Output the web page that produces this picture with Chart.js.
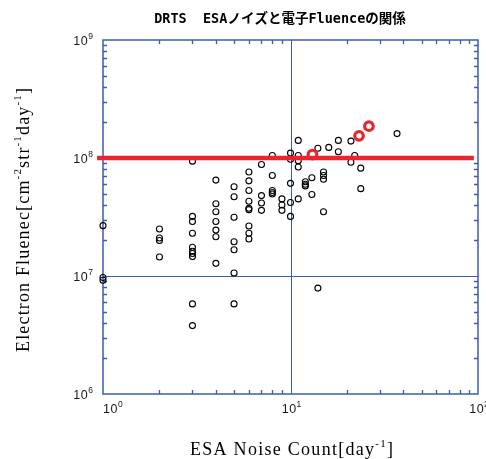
<!DOCTYPE html>
<html>
<head>
<meta charset="utf-8">
<script src="https://cdn.jsdelivr.net/npm/chart.js@4/dist/chart.umd.min.js"></script>
<style>
  html, body { margin: 0; padding: 0; background: #fff; }
</style>
</head>
<body>
<canvas id="chart" width="486" height="459"></canvas>
<script>
const chartTitle = 'DRTS  ESAノイズと電子Fluenceの関係';

// ESA noise count [day^-1] vs electron fluence, one entry per day
const noiseCounts = [
  1, 1, 1,
  2, 2, 2, 2,
  3, 3, 3, 3, 3, 3, 3, 3, 3, 3,
  4, 4, 4, 4, 4, 4, 4,
  5, 5, 5, 5, 5, 5, 5,
  6, 6, 6, 6, 6, 6, 6, 6, 6,
  7, 7, 7, 7,
  8, 8, 8, 8, 8,
  9, 9, 9,
  10, 10, 10, 10, 10,
  11, 11, 11, 11, 11,
  12, 12, 12,
  13, 13,
  14, 14,
  15, 15, 15, 15,
  16,
  18, 18,
  21, 21,
  22,
  23.7, 23.7,
  37
];
const fluences = [
  2.67e7, 9.7e6, 9.2e6,
  2.5e7, 2.1e7, 2.0e7, 1.45e7,
  9.4e7, 3.2e7, 2.9e7, 2.3e7, 1.75e7, 1.62e7, 1.55e7, 1.46e7, 5.8e6, 3.8e6,
  6.5e7, 4.1e7, 3.5e7, 2.9e7, 2.45e7, 2.15e7, 1.28e7,
  5.7e7, 4.7e7, 3.15e7, 1.95e7, 1.67e7, 1.06e7, 5.8e6,
  7.6e7, 6.4e7, 5.3e7, 4.3e7, 3.75e7, 3.65e7, 2.65e7, 2.3e7, 2.06e7,
  8.8e7, 4.8e7, 4.15e7, 3.6e7,
  1.05e8, 7.1e7, 5.3e7, 5.1e7, 4.95e7,
  4.5e7, 4.0e7, 3.6e7,
  1.1e8, 9.75e7, 6.1e7, 4.2e7, 3.2e7,
  1.41e8, 1.05e8, 9.5e7, 8.4e7, 4.5e7,
  6.3e7, 6.0e7, 5.8e7,
  6.8e7, 4.9e7,
  1.21e8, 7.9e6,
  7.6e7, 7.1e7, 6.6e7, 3.5e7,
  1.23e8,
  1.41e8, 1.13e8,
  1.39e8, 9.2e7,
  1.05e8,
  8.2e7, 5.5e7,
  1.61e8
];

// highlighted days (red rings)
const markedCounts = [13.1, 23.2, 26.2];
const markedFluences = [1.07e8, 1.54e8, 1.86e8];

// 1e8 threshold line
const thresholdCounts = [0.93, 95];
const thresholdFluences = [1e8, 1e8];

const xTickValues = [1, 10, 100];
const xTickExponents = ['0', '1', '2'];
const yTickValues = [1e6, 1e7, 1e8, 1e9];
const yTickExponents = ['6', '7', '8', '9'];
const gridValuesX = [10];
const gridValuesY = [1e7];

const BLUE = '#3d5cab';
const RED = '#e8262c';

const toPoints = (xs, ys) => xs.map((x, i) => ({ x, y: ys[i] }));

// draw a run of text pieces, some raised as superscripts, with extra letter spacing
function drawPieces(ctx, pieces, x, y, spacing) {
  let cx = x;
  pieces.forEach(p => {
    ctx.font = p.font;
    for (const ch of p.text) {
      ctx.fillText(ch, cx, y + (p.rise || 0));
      cx += ctx.measureText(ch).width + spacing;
    }
  });
  return cx - spacing - x;
}

function piecesWidth(ctx, pieces, spacing) {
  let w = 0, n = 0;
  pieces.forEach(p => {
    ctx.font = p.font;
    for (const ch of p.text) { w += ctx.measureText(ch).width; n++; }
  });
  return w + spacing * (n - 1);
}

function fitSpacing(ctx, pieces, target) {
  let n = 0;
  pieces.forEach(p => { n += [...p.text].length; });
  const natural = piecesWidth(ctx, pieces, 0);
  return (target - natural) / (n - 1);
}

const frame = {
  id: 'frame',
  beforeDatasetsDraw(chart) {
    const { ctx, chartArea: a, scales: { x, y } } = chart;
    ctx.save();
    ctx.strokeStyle = BLUE;

    // grid lines at the decades inside the plot
    ctx.lineWidth = 1;
    gridValuesX.forEach(v => {
      const px = Math.round(x.getPixelForValue(v)) + 0.5;
      ctx.beginPath(); ctx.moveTo(px, a.top); ctx.lineTo(px, a.bottom); ctx.stroke();
    });
    gridValuesY.forEach(v => {
      const py = Math.round(y.getPixelForValue(v)) + 0.5;
      ctx.beginPath(); ctx.moveTo(a.left, py); ctx.lineTo(a.right, py); ctx.stroke();
    });

    // inward minor ticks on all four sides
    ctx.lineWidth = 1.3;
    const len = 4;
    for (let d = 0; d < 2; d++) {
      for (let k = 2; k <= 9; k++) {
        const px = Math.round(x.getPixelForValue(k * Math.pow(10, d))) + 0.5;
        ctx.beginPath();
        ctx.moveTo(px, a.bottom); ctx.lineTo(px, a.bottom - len);
        ctx.moveTo(px, a.top); ctx.lineTo(px, a.top + len);
        ctx.stroke();
      }
    }
    for (let d = 6; d < 9; d++) {
      for (let k = 2; k <= 9; k++) {
        const py = Math.round(y.getPixelForValue(k * Math.pow(10, d))) + 0.5;
        ctx.beginPath();
        ctx.moveTo(a.left, py); ctx.lineTo(a.left + len, py);
        ctx.moveTo(a.right, py); ctx.lineTo(a.right - len, py);
        ctx.stroke();
      }
    }

    ctx.lineWidth = 1.5;
    ctx.strokeRect(a.left, a.top, a.right - a.left, a.bottom - a.top);
    ctx.restore();
  },
  afterDraw(chart) {
    const { ctx, chartArea: a, scales: { x, y } } = chart;
    ctx.save();
    ctx.fillStyle = '#1a1a1a';
    ctx.textBaseline = 'alphabetic';
    const baseFont = '12.5px "Liberation Sans", Arial, sans-serif';
    const supFont = '8.5px "Liberation Sans", Arial, sans-serif';

    // y tick labels, right aligned
    yTickValues.forEach((v, i) => {
      const py = y.getPixelForValue(v);
      const pieces = [
        { text: '10', font: baseFont },
        { text: yTickExponents[i], font: supFont, rise: -6 }
      ];
      const w = piecesWidth(ctx, pieces, 0.5);
      drawPieces(ctx, pieces, 93 - w, py + 4.5, 0.5);
    });

    // x tick labels
    xTickValues.forEach((v, i) => {
      const px = x.getPixelForValue(v);
      const pieces = [
        { text: '10', font: baseFont },
        { text: xTickExponents[i], font: supFont, rise: -6 }
      ];
      const w = piecesWidth(ctx, pieces, 0.5);
      const left = i === 0 ? px : px - w / 2 + 1;
      drawPieces(ctx, pieces, left, a.bottom + 19, 0.5);
    });

    // title
    ctx.fillStyle = '#000';
    ctx.font = 'bold 13.5px "DejaVu Sans Mono", "Noto Sans CJK JP", monospace';
    ctx.textAlign = 'center';
    ctx.fillText(chartTitle, 280, 23);
    ctx.textAlign = 'left';

    // x axis title
    const serif = '18px "Liberation Serif", "Times New Roman", serif';
    const serifSup = '11px "Liberation Serif", "Times New Roman", serif';
    const xTitle = [
      { text: 'ESA Noise Count[day', font: serif },
      { text: '-1', font: serifSup, rise: -8 },
      { text: ']', font: serif }
    ];
    const xs = fitSpacing(ctx, xTitle, 203);
    drawPieces(ctx, xTitle, 190, 455, xs);

    // y axis title, rotated
    const yTitle = [
      { text: 'Electron Fluenec[cm', font: serif },
      { text: '-2', font: serifSup, rise: -8 },
      { text: 'str', font: serif },
      { text: '-1', font: serifSup, rise: -8 },
      { text: 'day', font: serif },
      { text: '-1', font: serifSup, rise: -8 },
      { text: ']', font: serif }
    ];
    const ys = fitSpacing(ctx, yTitle, 264);
    ctx.translate(29, 220);
    ctx.rotate(-Math.PI / 2);
    drawPieces(ctx, yTitle, -132, 0, ys);
    ctx.restore();
  }
};

new Chart(document.getElementById('chart'), {
  type: 'scatter',
  data: {
    datasets: [
      {
        label: 'days',
        data: toPoints(noiseCounts, fluences),
        pointStyle: 'circle',
        pointRadius: 3,
        pointBorderWidth: 1.1,
        pointBorderColor: '#000',
        pointBackgroundColor: 'rgba(0,0,0,0)',
        clip: false,
        order: 3
      },
      {
        label: 'threshold',
        type: 'line',
        data: toPoints(thresholdCounts, thresholdFluences),
        borderColor: RED,
        borderWidth: 4.5,
        pointRadius: 0,
        fill: false,
        clip: false,
        order: 2
      },
      {
        label: 'marked',
        data: toPoints(markedCounts, markedFluences),
        pointStyle: 'circle',
        pointRadius: 4.3,
        pointBorderWidth: 3.2,
        pointBorderColor: RED,
        pointBackgroundColor: 'rgba(0,0,0,0)',
        clip: false,
        order: 1
      }
    ]
  },
  options: {
    responsive: false,
    devicePixelRatio: 1,
    animation: false,
    layout: { padding: { left: 103, top: 40, right: 8, bottom: 65 } },
    plugins: { legend: { display: false }, tooltip: { enabled: false } },
    scales: {
      x: { type: 'logarithmic', min: 1, max: 100, display: false },
      y: { type: 'logarithmic', min: 1e6, max: 1e9, display: false }
    }
  },
  plugins: [frame]
});
</script>
</body>
</html>
